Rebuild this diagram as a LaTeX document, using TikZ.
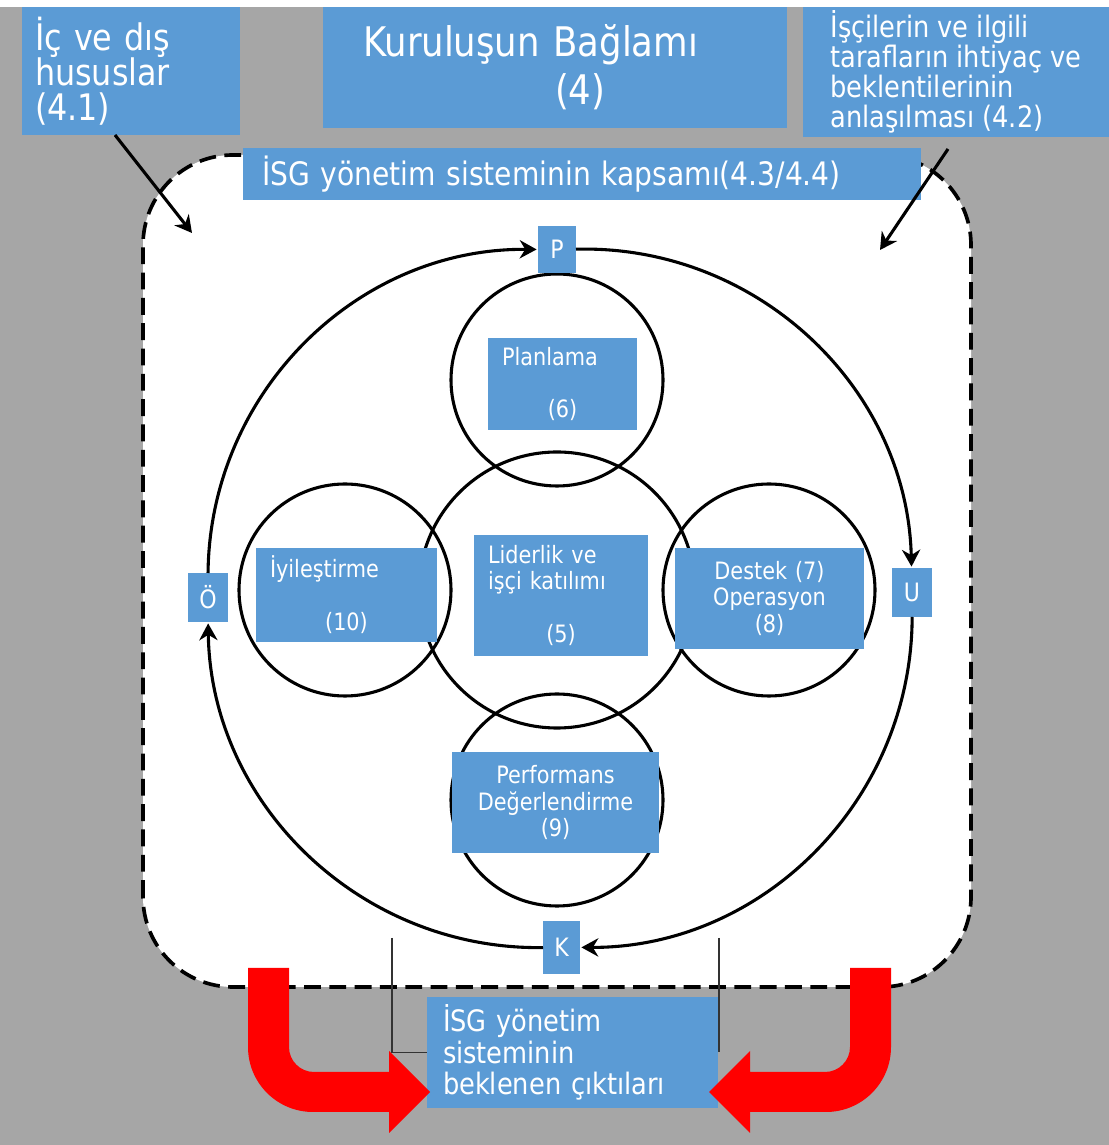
\documentclass[tikz,border=0pt]{standalone}
\usepackage{fontspec}
\setmainfont{DejaVu Sans}[FakeStretch=0.87]
\usetikzlibrary{arrows.meta}
\definecolor{isgblue}{HTML}{5B9BD5}
\definecolor{isggray}{HTML}{A6A6A6}
\newlength{\pixel}
\setlength{\pixel}{0.025cm}

\begin{document}
\begin{tikzpicture}[x=0.025cm,y=0.025cm,>={Stealth[length=12pt,width=13pt]},
    bluebox/.style={fill=isgblue,text=white,inner ysep=0pt,outer sep=0pt},
    ring/.style={circle,draw,line width=2.2pt,inner sep=0pt,minimum size=212\pixel},
    letter/.style={bluebox,inner xsep=0pt,font=\fontsize{18}{20}\selectfont},
    inner text/.style={bluebox,inner xsep=14\pixel,font=\fontsize{17}{18.8}\selectfont},
    cycle arrow/.style={->,line width=2.2pt,bend left=45,shorten >=1pt},
    thick arrow/.style={->,line width=2.2pt},
    border line/.style={draw=black,line width=2.6pt,dash pattern=on 12pt off 6pt,rounded corners=2.25cm,fill=white},
    bracketline/.style={draw=black!80,line width=0.8pt}]

    \useasboundingbox (0,0) rectangle (1109,1145);
    \fill[isggray] (0,0) rectangle (1109,1138);
    \fill[white] (0,1138) rectangle (1109,1145);

    \draw[border line] (143,158) rectangle (971,990);

    % the five clause circles
    \node[ring, minimum size=276\pixel] (lead) at (557,555) {};
    \node[ring] (plan) at (557,765) {};
    \node[ring] (perf) at (557,345) {};
    \node[ring] (iyi) at (345,555) {};
    \node[ring] (dest) at (769,555) {};

    \node[inner text, minimum width=149\pixel, minimum height=92\pixel, text width=121\pixel, align=left] (planB) at (562.5,761)
        {Planlama\\[18.8pt]\mbox{}\hfill(6)\hfill\mbox{}};
    \node[inner text, minimum width=174\pixel, minimum height=121\pixel, text width=146\pixel, align=left] (leadB) at (561,549.5)
        {Liderlik ve\\işçi katılımı\\[18.8pt]\mbox{}\hfill(5)\hfill\mbox{}};
    \node[inner text, minimum width=181\pixel, minimum height=94\pixel, text width=153\pixel, align=left] (iyiB) at (346.5,550)
        {İyileştirme\\[18.8pt]\mbox{}\hfill(10)\hfill\mbox{}};
    \node[inner text, minimum width=189\pixel, minimum height=101\pixel, text width=161\pixel, align=center] (destB) at (769.5,546.5)
        {Destek (7)\\Operasyon\\(8)};
    \node[inner text, minimum width=207\pixel, minimum height=101\pixel, text width=179\pixel, align=center] (perfB) at (555.5,342.5)
        {Performans\\Değerlendirme\\(9)};

    % PUKÖ cycle
    \node[letter, minimum width=38\pixel, minimum height=47\pixel] (P) at (557,895.5) {P};
    \node[letter, minimum width=40\pixel, minimum height=49\pixel] (U) at (912,552.5) {U};
    \node[letter, minimum width=37\pixel, minimum height=53\pixel] (K) at (561.5,197.5) {K};
    \node[letter, minimum width=40\pixel, minimum height=49\pixel] (O) at (208,547.5) {Ö};

    \draw[cycle arrow] (P) to (U);
    \draw[cycle arrow] (U) to (K);
    \draw[cycle arrow] (K) to (O);
    \draw[cycle arrow] (O) to (P);

    % context boxes
    \node[bluebox, minimum width=218\pixel, minimum height=128\pixel, inner xsep=13\pixel, text width=192\pixel, align=left,
          font=\fontsize{26}{25}\selectfont] (ic) at (131,1074)
        {İç ve dış\\hususlar\\(4.1)};
    \node[bluebox, minimum width=464\pixel, minimum height=121\pixel, inner xsep=40\pixel, text width=384\pixel, align=left,
          font=\fontsize{29}{34}\selectfont] (ctx) at (555,1077.5)
        {Kuruluşun Bağlamı\\\hspace*{4.8cm}(4)};
    \node[bluebox, minimum width=306\pixel, minimum height=130\pixel, inner xsep=10\pixel, align=left,
          font=\fontsize{21}{21.5}\selectfont] (isci) at (956,1073)
        {İşçilerin ve ilgili\\tarafların ihtiyaç ve\\beklentilerinin\\anlaşılması (4.2)};
    \node[bluebox, minimum width=678\pixel, minimum height=52\pixel, inner xsep=19\pixel, text width=640\pixel, align=left,
          font=\fontsize{23}{25}\selectfont] (kapsam) at (582,971)
        {İSG yönetim sisteminin kapsamı(4.3/4.4)};

    \coordinate (icTip) at (192,912);
    \coordinate (isciTip) at (880,895);
    \draw[thick arrow] ([xshift=-16\pixel]ic.south) -- (icTip);
    \draw[thick arrow] ([shift={(-8\pixel,-12\pixel)}]isci.south) -- (isciTip);

    % expected outcomes
    \node[bluebox, minimum width=291\pixel, minimum height=111\pixel, inner xsep=16\pixel, text width=259\pixel, align=left,
          font=\fontsize{21}{22.4}\selectfont] (out) at (572.5,92.5)
        {İSG yönetim\\sisteminin\\beklenen çıktıları};

    \coordinate (bl) at (392,207);
    \coordinate (br) at (719,207);
    \draw[bracketline] (bl) |- (out.west);
    \draw[bracketline] (br) -- (br |- out.east);

    \fill[red] (248,177) -- (289,177) -- (289,98) arc[start angle=180,end angle=270,radius=25]
        -- (389,73) -- (389,94) -- (430,53) -- (389,12) -- (389,33) -- (313,33)
        arc[start angle=270,end angle=180,radius=65] -- cycle;
    \fill[red] (891,177) -- (850,177) -- (850,98) arc[start angle=0,end angle=-90,radius=25]
        -- (750,73) -- (750,94) -- (709,53) -- (750,12) -- (750,33) -- (826,33)
        arc[start angle=270,end angle=360,radius=65] -- cycle;
\end{tikzpicture}
\end{document}
